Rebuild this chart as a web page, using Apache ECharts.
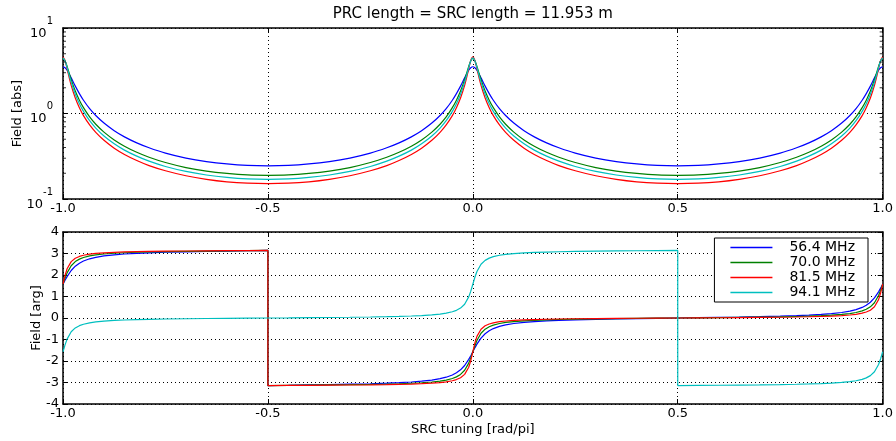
<!DOCTYPE html>
<html>
<head>
<meta charset="utf-8">
<script src="https://cdn.jsdelivr.net/npm/echarts@6/dist/echarts.min.js"></script>
<style>html,body{margin:0;padding:0;background:#fff}#c{width:896px;height:441px}</style>
</head>
<body>
<div id="c"></div>
<script>
// ---- data ----
const titleText = 'PRC length = SRC length = 11.953 m';
const seriesNames = ['56.4 MHz', '70.0 MHz', '81.5 MHz', '94.1 MHz'];
const xTicks = [-1.0, -0.5, 0.0, 0.5, 1.0];
const yArgTicks = [-4, -3, -2, -1, 0, 1, 2, 3, 4];
const minorTickValues = [0.2, 0.3, 0.4, 0.5, 0.6, 0.7, 0.8, 0.9, 2, 3, 4, 5, 6, 7, 8, 9];

const xMag = [-1, -0.995, -0.99, -0.98, -0.97, -0.96, -0.95, -0.935, -0.92, -0.9, -0.875, -0.85, -0.82, -0.79, -0.75, -0.7, -0.65, -0.6, -0.55, -0.5,
  -0.45, -0.4, -0.35, -0.3, -0.25, -0.21, -0.18, -0.15, -0.125, -0.1, -0.08, -0.065, -0.05, -0.04, -0.03, -0.02, -0.01, -0.005, 0,
  0.005, 0.01, 0.02, 0.03, 0.04, 0.05, 0.065, 0.08, 0.1, 0.125, 0.15, 0.18, 0.21, 0.25, 0.3, 0.35, 0.4, 0.45, 0.5,
  0.55, 0.6, 0.65, 0.7, 0.75, 0.79, 0.82, 0.85, 0.875, 0.9, 0.92, 0.935, 0.95, 0.96, 0.97, 0.98, 0.99, 0.995, 1];

const magBlue = [3.52, 3.43, 3.21, 2.61, 2.09, 1.71, 1.43, 1.14, 0.948, 0.773, 0.629, 0.533, 0.453, 0.397, 0.344, 0.301, 0.274, 0.257, 0.247, 0.244,
  0.247, 0.257, 0.274, 0.301, 0.344, 0.397, 0.453, 0.533, 0.629, 0.773, 0.948, 1.14, 1.43, 1.71, 2.09, 2.61, 3.21, 3.43, 3.52,
  3.43, 3.21, 2.61, 2.09, 1.71, 1.43, 1.14, 0.948, 0.773, 0.629, 0.533, 0.453, 0.397, 0.344, 0.301, 0.274, 0.257, 0.247, 0.244,
  0.247, 0.257, 0.274, 0.301, 0.344, 0.397, 0.453, 0.533, 0.629, 0.773, 0.948, 1.14, 1.43, 1.71, 2.09, 2.61, 3.21, 3.43, 3.52];
const magGreen = [4.41, 4.14, 3.56, 2.49, 1.83, 1.43, 1.17, 0.912, 0.749, 0.606, 0.491, 0.415, 0.352, 0.308, 0.267, 0.233, 0.212, 0.199, 0.191, 0.189,
  0.191, 0.199, 0.212, 0.233, 0.267, 0.308, 0.352, 0.415, 0.491, 0.606, 0.749, 0.912, 1.17, 1.43, 1.83, 2.49, 3.56, 4.14, 4.41,
  4.14, 3.56, 2.49, 1.83, 1.43, 1.17, 0.912, 0.749, 0.606, 0.491, 0.415, 0.352, 0.308, 0.267, 0.233, 0.212, 0.199, 0.191, 0.189,
  0.191, 0.199, 0.212, 0.233, 0.267, 0.308, 0.352, 0.415, 0.491, 0.606, 0.749, 0.912, 1.17, 1.43, 1.83, 2.49, 3.56, 4.14, 4.41];
const magRed = [4.61, 4.16, 3.33, 2.13, 1.52, 1.17, 0.945, 0.736, 0.602, 0.486, 0.393, 0.332, 0.282, 0.246, 0.214, 0.187, 0.170, 0.159, 0.153, 0.151,
  0.153, 0.159, 0.170, 0.187, 0.214, 0.246, 0.282, 0.332, 0.393, 0.486, 0.602, 0.736, 0.945, 1.17, 1.52, 2.13, 3.33, 4.16, 4.61,
  4.16, 3.33, 2.13, 1.52, 1.17, 0.945, 0.736, 0.602, 0.486, 0.393, 0.332, 0.282, 0.246, 0.214, 0.187, 0.170, 0.159, 0.153, 0.151,
  0.153, 0.159, 0.170, 0.187, 0.214, 0.246, 0.282, 0.332, 0.393, 0.486, 0.602, 0.736, 0.945, 1.17, 1.52, 2.13, 3.33, 4.16, 4.61];
const magCyan = [4.47, 4.13, 3.45, 2.32, 1.68, 1.30, 1.06, 0.824, 0.676, 0.546, 0.442, 0.373, 0.317, 0.277, 0.240, 0.210, 0.191, 0.179, 0.172, 0.170,
  0.172, 0.179, 0.191, 0.210, 0.240, 0.277, 0.317, 0.373, 0.442, 0.546, 0.676, 0.824, 1.06, 1.30, 1.68, 2.32, 3.45, 4.13, 4.47,
  4.13, 3.45, 2.32, 1.68, 1.30, 1.06, 0.824, 0.676, 0.546, 0.442, 0.373, 0.317, 0.277, 0.240, 0.210, 0.191, 0.179, 0.172, 0.170,
  0.172, 0.179, 0.191, 0.210, 0.240, 0.277, 0.317, 0.373, 0.442, 0.546, 0.676, 0.824, 1.06, 1.30, 1.68, 2.32, 3.45, 4.13, 4.47];

const xArg = [-1, -0.995, -0.99, -0.98, -0.97, -0.96, -0.95, -0.935, -0.92, -0.9, -0.875, -0.85, -0.82, -0.79, -0.75, -0.7, -0.65, -0.6, -0.55, -0.5,
  -0.5, -0.45, -0.4, -0.35, -0.3, -0.25, -0.21, -0.18, -0.15, -0.125, -0.1, -0.08, -0.065, -0.05, -0.04, -0.03, -0.02, -0.01, -0.005, 0,
  0.005, 0.01, 0.02, 0.03, 0.04, 0.05, 0.065, 0.08, 0.1, 0.125, 0.15, 0.18, 0.21, 0.25, 0.3, 0.35, 0.4, 0.45, 0.5,
  0.5, 0.55, 0.6, 0.65, 0.7, 0.75, 0.79, 0.82, 0.85, 0.875, 0.9, 0.92, 0.935, 0.95, 0.96, 0.97, 0.98, 0.99, 0.995, 1];

const argBlue = [1.571, 1.754, 1.925, 2.208, 2.410, 2.550, 2.650, 2.753, 2.822, 2.886, 2.940, 2.977, 3.009, 3.033, 3.057, 3.080, 3.099, 3.114, 3.129, 3.142,
  -3.142, -3.129, -3.114, -3.099, -3.080, -3.057, -3.033, -3.009, -2.977, -2.940, -2.886, -2.822, -2.753, -2.650, -2.550, -2.410, -2.208, -1.925, -1.754, -1.571,
  -1.388, -1.217, -0.934, -0.732, -0.592, -0.492, -0.389, -0.320, -0.256, -0.202, -0.165, -0.133, -0.109, -0.085, -0.062, -0.043, -0.028, -0.013, 0,
  0, 0.013, 0.028, 0.043, 0.062, 0.085, 0.109, 0.133, 0.165, 0.202, 0.256, 0.320, 0.389, 0.492, 0.592, 0.732, 0.934, 1.217, 1.388, 1.571];
const argGreen = [1.571, 1.854, 2.098, 2.432, 2.623, 2.738, 2.813, 2.887, 2.935, 2.977, 3.012, 3.036, 3.057, 3.072, 3.088, 3.103, 3.114, 3.124, 3.133, 3.142,
  -3.142, -3.133, -3.124, -3.114, -3.103, -3.088, -3.072, -3.057, -3.036, -3.012, -2.977, -2.935, -2.887, -2.813, -2.738, -2.623, -2.432, -2.098, -1.854, -1.571,
  -1.288, -1.044, -0.710, -0.519, -0.404, -0.329, -0.255, -0.207, -0.165, -0.130, -0.106, -0.085, -0.070, -0.054, -0.039, -0.028, -0.018, -0.009, 0,
  0, 0.009, 0.018, 0.028, 0.039, 0.054, 0.070, 0.085, 0.106, 0.130, 0.165, 0.207, 0.255, 0.329, 0.404, 0.519, 0.710, 1.044, 1.288, 1.571];
const argRed = [1.571, 1.982, 2.289, 2.622, 2.778, 2.864, 2.918, 2.970, 3.003, 3.032, 3.055, 3.071, 3.085, 3.096, 3.106, 3.116, 3.124, 3.130, 3.136, 3.142,
  -3.142, -3.136, -3.130, -3.124, -3.116, -3.106, -3.096, -3.085, -3.071, -3.055, -3.032, -3.003, -2.970, -2.918, -2.864, -2.778, -2.622, -2.289, -1.982, -1.571,
  -1.160, -0.853, -0.520, -0.364, -0.278, -0.224, -0.172, -0.139, -0.110, -0.087, -0.071, -0.057, -0.046, -0.036, -0.026, -0.018, -0.012, -0.006, 0,
  0, 0.006, 0.012, 0.018, 0.026, 0.036, 0.046, 0.057, 0.071, 0.087, 0.110, 0.139, 0.172, 0.224, 0.278, 0.364, 0.520, 0.853, 1.160, 1.571];
const argCyan = [-1.571, -1.248, -0.981, -0.641, -0.461, -0.356, -0.289, -0.223, -0.181, -0.144, -0.113, -0.092, -0.074, -0.061, -0.047, -0.034, -0.024, -0.015, -0.007, 0,
  0, 0.007, 0.015, 0.024, 0.034, 0.047, 0.061, 0.074, 0.092, 0.113, 0.144, 0.181, 0.223, 0.289, 0.356, 0.461, 0.641, 0.981, 1.248, 1.571,
  1.894, 2.161, 2.501, 2.681, 2.786, 2.853, 2.919, 2.961, 2.998, 3.029, 3.050, 3.068, 3.081, 3.095, 3.108, 3.118, 3.127, 3.135, 3.142,
  -3.142, -3.135, -3.127, -3.118, -3.108, -3.095, -3.081, -3.068, -3.050, -3.029, -2.998, -2.961, -2.919, -2.853, -2.786, -2.681, -2.501, -2.161, -1.894, -1.571];

const colors = ['#0000ff', '#008000', '#ff0000', '#00bfbf'];
const magData = [magBlue, magGreen, magRed, magCyan];
const argData = [argBlue, argGreen, argRed, argCyan];

// ---- chart ----
const chart = echarts.init(document.getElementById('c'), null, {renderer: 'canvas'});
const FONT = 'DejaVu Sans';
const black = '#000';
const pair = (xs, ys) => xs.map((x, i) => [x, ys[i]]);

function xAxisDef(grid, pos, extra) {
  return Object.assign({
    gridIndex: grid, type: 'value', position: pos, min: xTicks[0], max: xTicks[xTicks.length - 1], interval: 0.5,
    axisLine: {show: true, onZero: false, lineStyle: {color: black, width: 1.5}},
    axisTick: {show: true, inside: true, length: 5, lineStyle: {color: black, width: 1}},
    axisLabel: {show: pos === 'bottom', color: black, fontSize: 13, fontFamily: FONT, margin: 3,
      showMinLabel: true, showMaxLabel: true, formatter: v => v.toFixed(1)},
    splitLine: {show: pos === 'bottom', lineStyle: {color: black, width: 1, type: [1, 3]}}
  }, extra || {});
}

const option = {
  animation: false,
  backgroundColor: '#fff',
  textStyle: {fontFamily: FONT},
  grid: [
    {left: 63, top: 28, width: 822, height: 171},
    {left: 63, top: 232, width: 822, height: 172}
  ],
  xAxis: [
    xAxisDef(0, 'bottom'),
    xAxisDef(0, 'top', {name: titleText, nameLocation: 'middle', nameGap: 6,
      nameTextStyle: {color: black, fontSize: 15, fontFamily: FONT}}),
    xAxisDef(1, 'bottom', {name: 'SRC tuning [rad/pi]', nameLocation: 'middle', nameGap: 19,
      nameTextStyle: {color: black, fontSize: 13, fontFamily: FONT}}),
    xAxisDef(1, 'top')
  ],
  yAxis: [
    {gridIndex: 0, type: 'log', logBase: 10, min: 0.1, max: 10, position: 'left',
      name: 'Field [abs]', nameLocation: 'middle', nameGap: 39, nameMoveOverlap: false,
      nameTextStyle: {color: black, fontSize: 13, fontFamily: FONT},
      axisLine: {show: true, onZero: false, lineStyle: {color: black, width: 1.5}},
      axisTick: {show: true, inside: true, length: 5, lineStyle: {color: black}},
      axisLabel: {color: black, margin: 10, fontFamily: FONT,
        formatter: v => '{b|10}{s|' + Math.round(Math.log10(v)) + '}',
        rich: {b: {fontSize: 13, fontFamily: FONT, color: black, lineHeight: 24, verticalAlign: 'bottom'},
               s: {fontSize: 10, fontFamily: FONT, color: black, lineHeight: 24, verticalAlign: 'top'}}},
      splitLine: {show: true, lineStyle: {color: black, width: 1, type: [1, 3]}}},
    {gridIndex: 0, type: 'log', logBase: 10, min: 0.1, max: 10, position: 'right',
      axisLine: {show: true, onZero: false, lineStyle: {color: black, width: 1.5}},
      axisTick: {show: true, inside: true, length: 5, lineStyle: {color: black}},
      axisLabel: {show: false}, splitLine: {show: false}},
    {gridIndex: 1, type: 'value', min: yArgTicks[0], max: yArgTicks[yArgTicks.length - 1], interval: 1, position: 'left',
      name: 'Field [arg]', nameLocation: 'middle', nameGap: 20, nameMoveOverlap: false,
      nameTextStyle: {color: black, fontSize: 13, fontFamily: FONT},
      axisLine: {show: true, onZero: false, lineStyle: {color: black, width: 1.5}},
      axisTick: {show: true, inside: true, length: 5, lineStyle: {color: black}},
      axisLabel: {color: black, fontSize: 13, fontFamily: FONT, margin: 4},
      splitLine: {show: true, lineStyle: {color: black, width: 1, type: [1, 3]}}},
    {gridIndex: 1, type: 'value', min: yArgTicks[0], max: yArgTicks[yArgTicks.length - 1], interval: 1, position: 'right',
      axisLine: {show: true, onZero: false, lineStyle: {color: black, width: 1.5}},
      axisTick: {show: true, inside: true, length: 5, lineStyle: {color: black}},
      axisLabel: {show: false}, splitLine: {show: false}}
  ],
  legend: {
    data: seriesNames.map(n => ({name: n, icon: 'rect'})), orient: 'vertical', right: 28, top: 238,
    padding: [2, 13, 2, 16], itemGap: 0, itemWidth: 42, itemHeight: 1.5,
    backgroundColor: '#fff', borderColor: black, borderWidth: 1, borderRadius: 0,
    textStyle: {color: black, fontSize: 14, fontFamily: FONT, lineHeight: 15, padding: [0, 0, 0, 12]},
    selectedMode: false
  },
  series: []
};

seriesNames.forEach((name, i) => {
  option.series.push({
    name: name, type: 'line', xAxisIndex: 0, yAxisIndex: 0, data: pair(xMag, magData[i]),
    showSymbol: false, symbol: 'none', smooth: 0.3, lineStyle: {color: colors[i], width: 1.2},
    itemStyle: {color: colors[i]}, z: 3
  });
});
seriesNames.forEach((name, i) => {
  option.series.push({
    name: name, type: 'line', xAxisIndex: 2, yAxisIndex: 2, data: pair(xArg, argData[i]),
    showSymbol: false, symbol: 'none', smooth: false, lineStyle: {color: colors[i], width: 1.2},
    itemStyle: {color: colors[i]}, z: 3
  });
});
// minor ticks of the log axis (left and right edges)
option.series.push({
  type: 'scatter', xAxisIndex: 0, yAxisIndex: 0, silent: true, symbol: 'rect', symbolSize: [3, 1], symbolOffset: [1.5, 0],
  itemStyle: {color: black}, data: minorTickValues.map(v => [xTicks[0], v]), z: 5
});
option.series.push({
  type: 'scatter', xAxisIndex: 0, yAxisIndex: 0, silent: true, symbol: 'rect', symbolSize: [3, 1], symbolOffset: [-1.5, 0],
  itemStyle: {color: black}, data: minorTickValues.map(v => [xTicks[xTicks.length - 1], v]), z: 5
});

chart.setOption(option);
</script>
</body>
</html>
